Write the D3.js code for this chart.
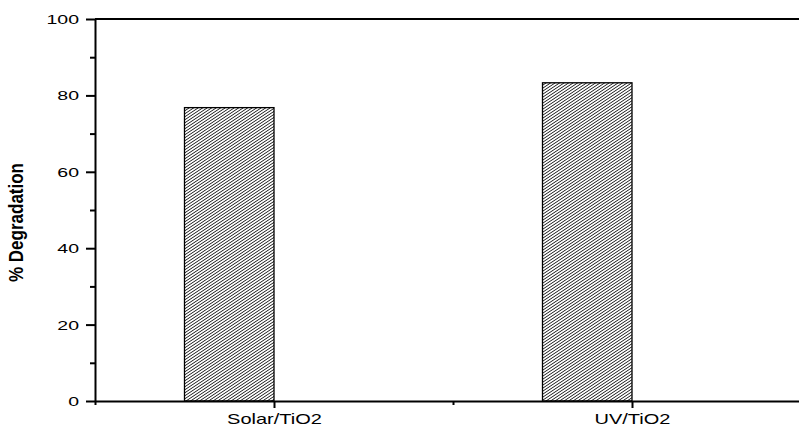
<!DOCTYPE html>
<html>
<head>
<meta charset="utf-8">
<script src="https://cdn.jsdelivr.net/npm/d3@7"></script>
<style>
  html, body { margin: 0; padding: 0; background: #fff; }
  svg { display: block; }
  text { font-family: "Liberation Sans", Arial, Helvetica, sans-serif; fill: #000; }
</style>
</head>
<body>
<svg id="chart" width="799" height="427"></svg>
<script>
// ---- data ----
const categories = ["Solar/TiO2", "UV/TiO2"];
const degradation = [76.8, 83.3];
const yMajorTicks = [0, 20, 40, 60, 80, 100];
const yMinorTicks = [10, 30, 50, 70, 90];
const yLabel = "% Degradation";

const svg = d3.select("#chart");

// horizontal stretch of the original picture's text
const SX_TICK = 1.5, SX_CAT = 1.43, SX_YLAB = 1.22;

const y = d3.scaleLinear().domain([0, 100]).range([401, 19]);
const x = d3.scaleLinear().domain([0.5, categories.length + 0.5]).range([95, 811]);

// hatch pattern (integer tile 9x6 containing two diagonals, horizontal period 4.5)
const TW = 9, TH = 6, step = 3, slope = TH / TW;
const defs = svg.append("defs");
const pat = defs.append("pattern")
  .attr("id", "hatch")
  .attr("patternUnits", "userSpaceOnUse")
  .attr("width", TW).attr("height", TH);
pat.append("rect").attr("width", TW).attr("height", TH).attr("fill", "#fff");
const ks = d3.range(-1, 5);
pat.selectAll("path").data(ks).join("path")
  .attr("d", k => `M-2,${k * step + 2 * slope} L${TW + 2},${k * step - (TW + 2) * slope}`)
  .attr("stroke", "#000").attr("stroke-width", 0.9).attr("fill", "none");

// bars: drawn from (position - 0.25) to position
const barW = 0.25;
svg.append("g").selectAll("rect")
  .data(degradation)
  .join("rect")
  .attr("x", (d, i) => x(i + 1 - barW))
  .attr("width", (d, i) => x(i + 1) - x(i + 1 - barW))
  .attr("y", d => y(d))
  .attr("height", d => y(0) - y(d))
  .attr("fill", "url(#hatch)")
  .attr("stroke", "#000")
  .attr("stroke-width", 1.3);

// top frame line
svg.append("line")
  .attr("x1", x(0.5)).attr("x2", x(categories.length + 0.5))
  .attr("y1", y(100)).attr("y2", y(100))
  .attr("stroke", "#000").attr("stroke-width", 2);

// left axis major
const gy = svg.append("g").attr("transform", `translate(${x(0.5)},0)`)
  .call(d3.axisLeft(y).tickValues(yMajorTicks).tickSize(9).tickSizeOuter(0).tickFormat(d3.format("d")));
gy.selectAll("text")
  .attr("x", null).attr("dy", "0.34em")
  .attr("transform", `translate(-16,0) scale(${SX_TICK},1)`)
  .style("font-size", "13px");
// left axis minor
const gym = svg.append("g").attr("transform", `translate(${x(0.5)},0)`)
  .call(d3.axisLeft(y).tickValues(yMinorTicks).tickSize(5).tickSizeOuter(0).tickFormat(""));
gym.select(".domain").remove();

// bottom axis major
const gx = svg.append("g").attr("transform", `translate(0,${y(0)})`)
  .call(d3.axisBottom(x).tickValues(categories.map((c, i) => i + 1)).tickSize(7).tickSizeOuter(0)
    .tickFormat((d) => categories[d - 1]));
gx.selectAll("text")
  .attr("y", null).attr("dy", null)
  .attr("transform", `translate(0,23) scale(${SX_CAT},1)`)
  .style("font-size", "14px");
// bottom axis minor
const gxm = svg.append("g").attr("transform", `translate(0,${y(0)})`)
  .call(d3.axisBottom(x).tickValues(d3.range(0.5, categories.length + 1, 1)).tickSize(4).tickSizeOuter(0).tickFormat(""));
gxm.select(".domain").remove();

svg.selectAll(".domain").attr("stroke", "#000").attr("stroke-width", 2);
svg.selectAll(".tick line").attr("stroke", "#000").attr("stroke-width", 2);

// y label
svg.append("text")
  .attr("text-anchor", "middle")
  .attr("transform", `translate(23,222.5) scale(${SX_YLAB},1) rotate(-90)`)
  .style("font-size", "17px")
  .style("font-weight", "bold")
  .text(yLabel);
</script>
</body>
</html>
